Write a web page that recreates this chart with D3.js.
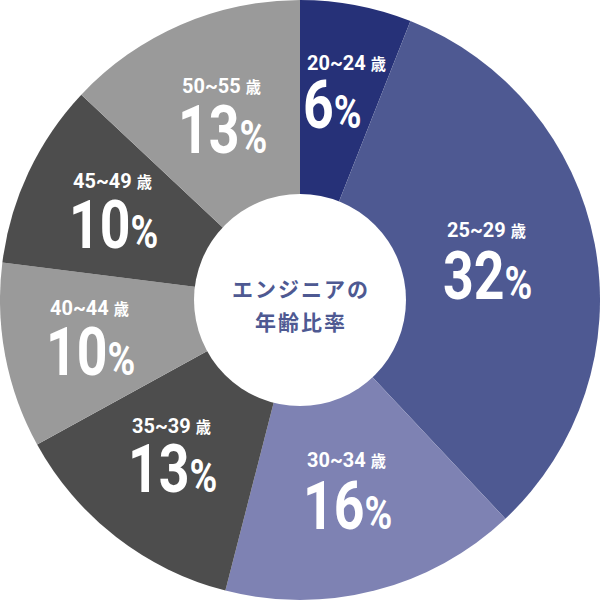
<!DOCTYPE html>
<html><head><meta charset="utf-8">
<script src="https://cdn.jsdelivr.net/npm/d3@7"></script>
<style>body{margin:0;background:#fff}</style>
</head><body>
<svg id="chart" width="600" height="600"></svg>
<script>
const categories = ["20~24", "25~29", "30~34", "35~39", "40~44", "45~49", "50~55"];
const values = [6, 32, 16, 13, 10, 10, 13];
const colors = ["#263178", "#4e5992", "#7e82b3", "#4d4d4d", "#9a9a9a", "#4d4d4d", "#9a9a9a"];
const ageUnit = "歳";
const centerLines = ["エンジニアの", "年齢比率"];
// label layout: [left x, age-line baseline, percent baseline]
const labelPos = [[307, 70, 128], [447, 237, 299], [307, 467, 529], [132, 433, 492], [50, 315, 375], [73, 188, 248], [182, 93, 153]];

const svg = d3.select("#chart");
const W = 600, H = 600, R = 300, r = 106;
const g = svg.append("g").attr("transform", `translate(${W/2},${H/2})`);

const pie = d3.pie().sort(null).value(d => d.v);
const data = pie(categories.map((c, i) => ({c, v: values[i], i})));
const arc = d3.arc().innerRadius(0).outerRadius(R);

g.selectAll("path.slice").data(data).join("path")
  .attr("class", "slice")
  .attr("d", arc)
  .attr("fill", d => colors[d.data.i]);

g.append("circle").attr("r", r).attr("fill", "#fff");

const ct = g.append("text")
  .attr("text-anchor", "middle")
  .attr("font-family", "'Noto Sans CJK JP', sans-serif")
  .attr("font-weight", 700)
  .attr("font-size", 21)
  .attr("letter-spacing", 2)
  .attr("fill", "#4e5992");
ct.selectAll("tspan").data(centerLines).join("tspan")
  .attr("x", 1)
  .attr("y", (d, i) => -3 + i * 33)
  .text(d => d);

const lab = svg.append("g").attr("fill", "#fff").attr("font-weight", 700);
data.forEach((d, i) => {
  const [x, y1, y2] = labelPos[i];
  const t1 = lab.append("text")
    .attr("transform", `translate(${x},${y1}) scale(0.95,1)`)
    .attr("font-family", "Roboto, sans-serif")
    .attr("font-size", 21);
  t1.append("tspan").text(d.data.c + " ");
  t1.append("tspan").attr("font-size", 16).attr("font-family", "'Noto Sans CJK JP', sans-serif").text(ageUnit);
  const t2 = lab.append("text")
    .attr("transform", `translate(${x - 4},${y2}) scale(0.8,1)`)
    .attr("font-family", "Roboto, sans-serif")
    .attr("font-size", 67);
  t2.append("tspan").text(d.data.v);
  t2.append("tspan").attr("font-size", 47).text("%");
});
</script>
</body></html>
